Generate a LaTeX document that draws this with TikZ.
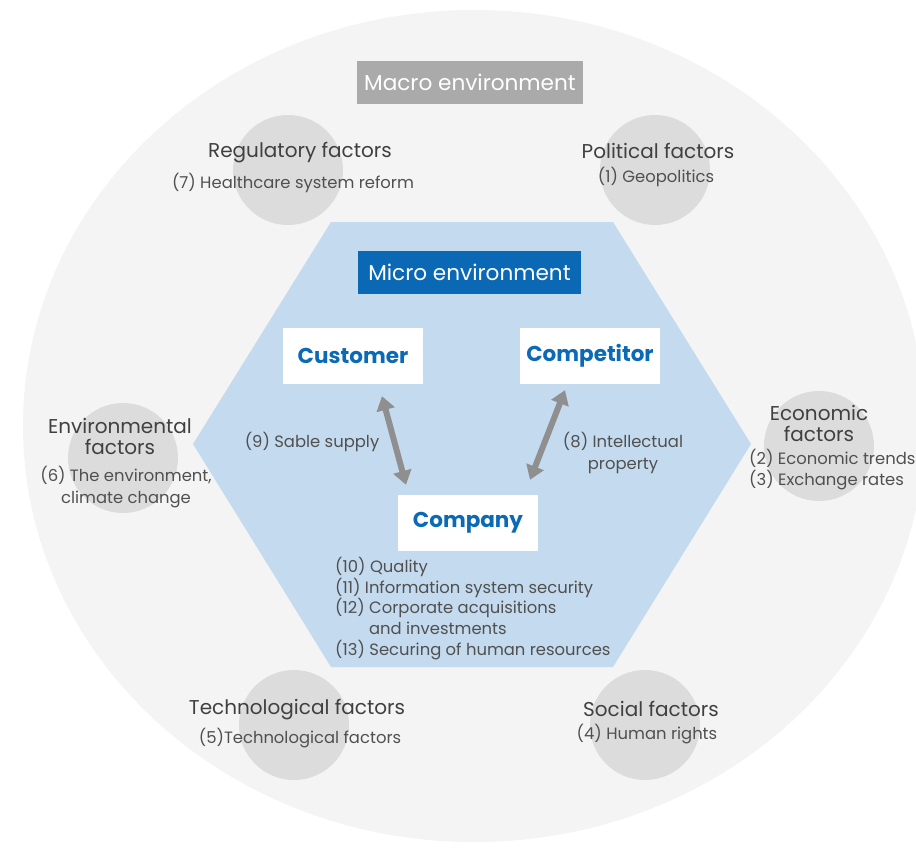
\documentclass[tikz,border=0pt]{standalone}
\usepackage{fontspec}
\setmainfont{Poppins}
\usetikzlibrary{arrows.meta}
\definecolor{bgc}{HTML}{F4F4F4}
\definecolor{cir}{HTML}{DCDCDC}
\definecolor{hexc}{HTML}{C4DAEE}
\definecolor{macroc}{HTML}{AAAAAA}
\definecolor{microc}{HTML}{0A68B4}
\definecolor{bluet}{HTML}{0B6AB5}
\definecolor{headc}{HTML}{404040}
\definecolor{bodyc}{HTML}{505050}
\definecolor{arrc}{HTML}{8F8F8F}
\begin{document}
\begin{tikzpicture}[x=1pt,y=-1pt,
  bgcircle/.style={fill=cir, draw=none},
  head/.style={text=headc, font=\fontsize{20}{21}\selectfont, inner sep=0pt, align=center},
  body/.style={text=bodyc, font=\fontsize{16.4}{22}\selectfont, inner sep=0pt, align=center},
  bodyl/.style={text=bodyc, font=\fontsize{16.4}{20.7}\selectfont, inner sep=0pt, align=left},
  entity/.style={fill=white, minimum width=140pt, minimum height=56pt, text=bluet, font=\fontsize{21.5}{22}\selectfont\bfseries, inner sep=0pt},
  titlebox/.style={text=white, font=\fontsize{21.6}{22}\selectfont, inner sep=0pt},
  arr/.style={draw=arrc, line width=6pt, {Triangle[length=14pt,width=18pt]}-{Triangle[length=14pt,width=18pt]}}
]
\useasboundingbox (0,0) rectangle (916,852);
\clip (0,0) rectangle (916,852);
\fill[white] (0,0) rectangle (916,852);
% macro environment
\fill[bgc] (474,426) ellipse [x radius=451pt, y radius=416pt];
% factor circles
\fill[bgcircle] (288,170) circle [radius=55pt];
\fill[bgcircle] (655,170) circle [radius=55pt];
\fill[bgcircle] (819,446) circle [radius=55pt];
\fill[bgcircle] (123,458) circle [radius=55pt];
\fill[bgcircle] (294,725) circle [radius=55pt];
\fill[bgcircle] (645,725) circle [radius=55pt];
% micro environment hexagon
\fill[hexc] (193,444) -- (331,222) -- (613,222) -- (751,444) -- (613,667) -- (331,667) -- cycle;
% title boxes
\node[titlebox, fill=macroc, minimum width=226pt, minimum height=43pt] (macro) at (470,82.5) {Macro environment};
\node[titlebox, fill=microc, minimum width=223pt, minimum height=43pt] (micro) at (469.5,272.5) {Micro environment};
% entities
\node[entity] (customer) at (353,356) {Customer};
\node[entity] (competitor) at (590,356) {Competitor};
\node[entity] (company) at (468,523) {Company};
% arrows
\draw[arr] ([xshift=29pt,yshift=-12pt]customer.south) -- ([xshift=-62pt,yshift=10pt]company.north);
\draw[arr] ([xshift=-25pt,yshift=-6pt]competitor.south) -- ([xshift=62pt,yshift=15pt]company.north);
% arrow labels
\node[body] (supply) at (312,442) {(9) Sable supply};
\node[body] (ip) at (623,453) {(8) Intellectual\\property};
% company items
\node[bodyl, anchor=north west] (items) at (335,557) {(10) Quality\\(11) Information system security\\(12) Corporate acquisitions\\\hphantom{(12) }and investments\\(13) Securing of human resources};
% factors
\node[head] (regh) at (300,153) {Regulatory factors};
\node[body] (regb) at (293,183) {(7) Healthcare system reform};
\node[head] (polh) at (658,151) {Political factors};
\node[body] (polb) at (656,177) {(1) Geopolitics};
\node[head] (ecoh) at (819,423) {Economic\\factors};
\node[bodyl, anchor=west] (ecob) at (749,469.5) {(2) Economic trends\\(3) Exchange rates};
\node[head] (envh) at (120,436.5) {Environmental\\factors};
\node[body] (envb) at (126,487) {(6) The environment,\\climate change};
\node[head] (tech) at (297,710) {Technological factors};
\node[body] (techb) at (300,738) {(5)Technological factors};
\node[head] (soch) at (651,709) {Social factors};
\node[body] (socb) at (647,734) {(4) Human rights};
\end{tikzpicture}
\end{document}
